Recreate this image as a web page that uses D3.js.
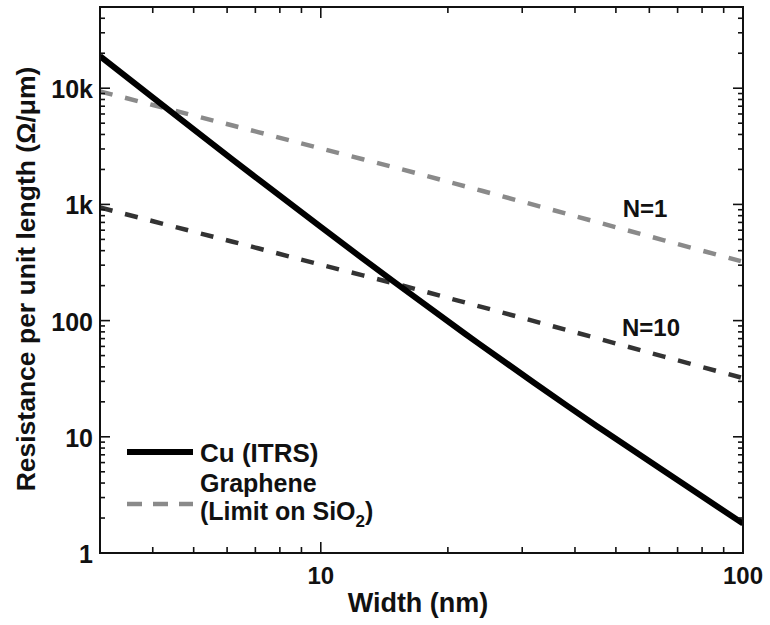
<!DOCTYPE html>
<html>
<head>
<meta charset="utf-8">
<script src="https://cdn.jsdelivr.net/npm/d3@7"></script>
<style>
  html, body { margin: 0; padding: 0; background: #fff; }
  svg { display: block; }
  text { font-family: "Liberation Sans", Arial, Helvetica, sans-serif; font-weight: bold; fill: #111; }
</style>
</head>
<body>
<svg id="chart" width="770" height="625"></svg>
<script>
// Interconnect width (nm)
const widths = [3, 5, 7, 10, 15, 22, 32, 45, 65, 100];
// Resistance per unit length (Ohm/um)
const cuITRS      = [18900, 4426, 1719, 640, 212, 76.7, 29.2, 12.4, 5.07, 1.79];
const grapheneN1  = [9400, 5820, 4250, 3030, 2075, 1430, 990, 706, 491, 321];
const grapheneN10 = [940, 582, 425, 303, 208, 143, 99, 70.6, 49, 32];

const xTickValues = [10, 100];
const xTickLabels = ["10", "100"];
const yTickValues = [1, 10, 100, 1000, 10000];
const yTickLabels = ["1", "10", "100", "1k", "10k"];
const seriesLabels = ["N=1", "N=10"];

const W = 770, H = 625;
const m = { left: 100, right: 27, top: 7, bottom: 72 };
const svg = d3.select("#chart");

const x = d3.scaleLog().domain([3, 100]).range([m.left, W - m.right]);
const y = d3.scaleLog().domain([1, 50000]).range([H - m.bottom, m.top]);

const x0 = x.range()[0], x1 = x.range()[1];
const y0 = y.range()[0], y1 = y.range()[1];

// minor tick values
const xMinor = [];
for (const d of [1, 10]) for (let k = 1; k <= 9; k++) { const v = k * d; if (v >= 3 && v <= 100 && !xTickValues.includes(v)) xMinor.push(v); }
const yMinor = [];
for (const d of [1, 10, 100, 1000, 10000]) for (let k = 2; k <= 9; k++) { const v = k * d; if (v <= 50000) yMinor.push(v); }

const clipId = "plotclip";
svg.append("clipPath").attr("id", clipId)
  .append("rect").attr("x", x0).attr("y", y1).attr("width", x1 - x0).attr("height", y0 - y1);

const line = d3.line().x((d, i) => x(widths[i])).y(d => y(d)).curve(d3.curveCatmullRom.alpha(0.5));

const plot = svg.append("g").attr("clip-path", `url(#${clipId})`);

// Graphene N=1 (lighter dashed)
plot.append("path").datum(grapheneN1).attr("d", line)
  .attr("fill", "none").attr("stroke", "#8a8a8a").attr("stroke-width", 4.5)
  .attr("stroke-dasharray", "13,13");
// Graphene N=10 (darker dashed)
plot.append("path").datum(grapheneN10).attr("d", line)
  .attr("fill", "none").attr("stroke", "#333").attr("stroke-width", 4.5)
  .attr("stroke-dasharray", "13,13");
// Cu (ITRS)
plot.append("path").datum(cuITRS).attr("d", line)
  .attr("fill", "none").attr("stroke", "#000").attr("stroke-width", 6);

// Frame and inward ticks
const axes = svg.append("g").attr("stroke", "#111").attr("stroke-width", 2).attr("fill", "none");
axes.append("rect").attr("x", x0).attr("y", y1).attr("width", x1 - x0).attr("height", y0 - y1);

const tk = axes.append("g").attr("stroke-width", 1.6);
function xTick(v, len) {
  tk.append("line").attr("x1", x(v)).attr("x2", x(v)).attr("y1", y0).attr("y2", y0 - len);
  tk.append("line").attr("x1", x(v)).attr("x2", x(v)).attr("y1", y1).attr("y2", y1 + len);
}
function yTick(v, len) {
  tk.append("line").attr("x1", x0).attr("x2", x0 + len).attr("y1", y(v)).attr("y2", y(v));
  tk.append("line").attr("x1", x1).attr("x2", x1 - len).attr("y1", y(v)).attr("y2", y(v));
}
xTickValues.forEach(v => xTick(v, 11));
xMinor.forEach(v => xTick(v, 6));
yTickValues.forEach(v => yTick(v, 10));
yMinor.forEach(v => yTick(v, 5));

// Tick labels
svg.append("g").selectAll("text").data(xTickValues).join("text")
  .attr("x", d => x(d)).attr("y", y0 + 31).attr("text-anchor", "middle")
  .attr("font-size", 24).text((d, i) => xTickLabels[i]);
svg.append("g").selectAll("text").data(yTickValues).join("text")
  .attr("x", x0 - 7).attr("y", d => y(d) + 10).attr("text-anchor", "end")
  .attr("font-size", 25).text((d, i) => yTickLabels[i]);

// Axis titles
svg.append("text").attr("x", 418).attr("y", 612).attr("text-anchor", "middle")
  .attr("font-size", 27).text("Width (nm)");
svg.append("text").attr("transform", "translate(35,279) rotate(-90)").attr("text-anchor", "middle")
  .attr("font-size", 26.5).text("Resistance per unit length (Ω/μm)");

// Series labels
svg.append("text").attr("x", 645).attr("y", 217).attr("text-anchor", "middle")
  .attr("font-size", 24).text(seriesLabels[0]);
svg.append("text").attr("x", 651).attr("y", 336).attr("text-anchor", "middle")
  .attr("font-size", 24).text(seriesLabels[1]);

// Legend
const lg = svg.append("g");
lg.append("line").attr("x1", 127).attr("x2", 193).attr("y1", 452).attr("y2", 452)
  .attr("stroke", "#000").attr("stroke-width", 6);
lg.append("text").attr("x", 200).attr("y", 462).attr("font-size", 26).text("Cu (ITRS)");
lg.append("line").attr("x1", 127).attr("x2", 193).attr("y1", 504).attr("y2", 504)
  .attr("stroke", "#8a8a8a").attr("stroke-width", 4.5).attr("stroke-dasharray", "15,11");
lg.append("text").attr("x", 200).attr("y", 492).attr("font-size", 25).text("Graphene");
const t2 = lg.append("text").attr("x", 200).attr("y", 520).attr("font-size", 25);
t2.append("tspan").text("(Limit on SiO");
t2.append("tspan").attr("font-size", 17).attr("dy", 7).text("2");
t2.append("tspan").attr("dy", -7).text(")");
</script>
</body>
</html>
